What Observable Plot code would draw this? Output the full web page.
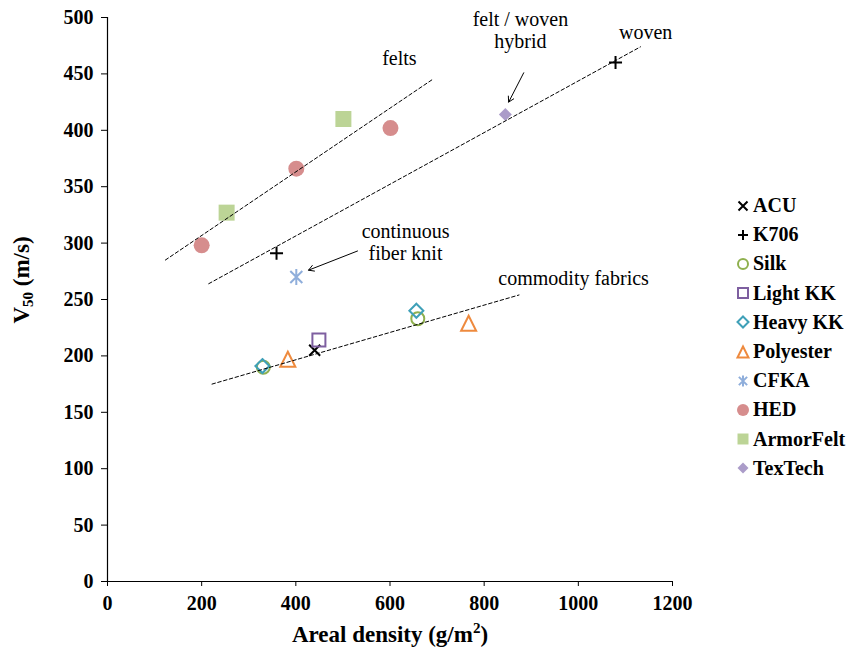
<!DOCTYPE html>
<html><head><meta charset="utf-8">
<script src="https://cdn.jsdelivr.net/npm/d3@7"></script>
<script src="https://cdn.jsdelivr.net/npm/@observablehq/plot@0.6"></script>
<style>
body{margin:0;background:#fff;}
#wrap{position:relative;width:846px;height:648px;font-family:"Liberation Serif","Times New Roman",serif;}
#legend{position:absolute;left:735px;top:191px;}
.item{display:flex;align-items:center;height:29.2px;font-weight:bold;font-size:20px;color:#000;}
.item svg{margin-right:2px;}
</style></head><body><div id="wrap"></div>
<script>
// ---- data ----
const seriesNames = ["ACU","K706","Silk","Light KK","Heavy KK","Polyester","CFKA","HED","ArmorFelt","TexTech"];
const acuX = [440], acuY = [205];
const k706X = [359, 1079], k706Y = [291, 460];
const silkX = [331, 659], silkY = [190, 233];
const lightKKX = [449], lightKKY = [214];
const heavyKKX = [329, 656], heavyKKY = [191, 240];
const polyesterX = [383, 767], polyesterY = [197, 229];
const cfkaX = [401], cfkaY = [270];
const hedX = [200, 401, 601], hedY = [298, 366, 402];
const armorFeltX = [253, 501], armorFeltY = [327, 410];
const texTechX = [845], texTechY = [414];

const trendNames = ["felts","woven","commodity"];
const feltsLineX = [123, 690], feltsLineY = [285, 445];
const wovenLineX = [215, 1132], wovenLineY = [264, 474];
const commodityLineX = [222, 874], commodityLineY = [175, 254];

const annText = ["felts", "felt / woven\nhybrid", "woven", "continuous\nfiber knit", "commodity fabrics"];
const annX = [620, 877, 1143, 633, 990];
const annY = [464, 489, 487, 301, 269];

const arrowX1 = [531, 884], arrowY1 = [293, 451];
const arrowX2 = [427, 852], arrowY2 = [276, 425];

const xTicks = [0, 200, 400, 600, 800, 1000, 1200];
const yTicks = [0, 50, 100, 150, 200, 250, 300, 350, 400, 450, 500];

// ---- symbols ----
const mk = f => ({draw(c, size){ const r = Math.sqrt(size / Math.PI); f(c, r); }});
const symCircle = mk((c,r)=>{c.moveTo(r,0); c.arc(0,0,r,0,2*Math.PI); c.closePath();});
const symSquare = mk((c,r)=>{c.rect(-r,-r,2*r,2*r);});
const symDiamond = mk((c,r)=>{c.moveTo(0,-r);c.lineTo(r,0);c.lineTo(0,r);c.lineTo(-r,0);c.closePath();});
const symTriangle = mk((c,r)=>{c.moveTo(0,-r);c.lineTo(r,r);c.lineTo(-r,r);c.closePath();});
const symPlus = mk((c,r)=>{c.moveTo(-r,0);c.lineTo(r,0);c.moveTo(0,-r);c.lineTo(0,r);});
const symTimes = mk((c,r)=>{c.moveTo(-r,-r);c.lineTo(r,r);c.moveTo(-r,r);c.lineTo(r,-r);});
const symStar = mk((c,r)=>{const d=r*0.75;c.moveTo(0,-r);c.lineTo(0,r);c.moveTo(-d,-d);c.lineTo(d,d);c.moveTo(-d,d);c.lineTo(d,-d);});

const series = [
  {name:"ACU", x:acuX, y:acuY, symbol:symTimes, stroke:"#000", fill:"none", r:5.5, sw:2, lr:4.5},
  {name:"K706", x:k706X, y:k706Y, symbol:symPlus, stroke:"#000", fill:"none", r:6.5, sw:2, lr:5},
  {name:"Silk", x:silkX, y:silkY, symbol:symCircle, stroke:"#8FB04E", fill:"none", r:6.5, sw:2, lr:5},
  {name:"Light KK", x:lightKKX, y:lightKKY, symbol:symSquare, stroke:"#7E5FA0", fill:"none", r:6.5, sw:2, lr:5},
  {name:"Heavy KK", x:heavyKKX, y:heavyKKY, symbol:symDiamond, stroke:"#3FA0B8", fill:"none", r:7, sw:2, lr:5.5},
  {name:"Polyester", x:polyesterX, y:polyesterY, symbol:symTriangle, stroke:"#EE8A3E", fill:"none", r:7.5, sw:2, lr:5.5},
  {name:"CFKA", x:cfkaX, y:cfkaY, symbol:symStar, stroke:"#8FAEDB", fill:"none", r:8, sw:2, lr:5.5},
  {name:"HED", x:hedX, y:hedY, symbol:symCircle, stroke:"none", fill:"#D68D8D", r:8, sw:0, lr:6},
  {name:"ArmorFelt", x:armorFeltX, y:armorFeltY, symbol:symSquare, stroke:"none", fill:"#BCD496", r:8, sw:0, lr:5.5},
  {name:"TexTech", x:texTechX, y:texTechY, symbol:symDiamond, stroke:"none", fill:"#AB9CC9", r:6.5, sw:0, lr:5.5}
];

const trends = [
  {x:feltsLineX, y:feltsLineY},
  {x:wovenLineX, y:wovenLineY},
  {x:commodityLineX, y:commodityLineY}
];

const dotMarks = series.map(s => Plot.dot(s.x.map((v,i)=>({x:v, y:s.y[i]})), {
  x:"x", y:"y", symbol:s.symbol, r:s.r, stroke:s.stroke, fill:s.fill, strokeWidth:s.sw
}));
const lineMarks = trends.map(t => Plot.line(t.x.map((v,i)=>({x:v, y:t.y[i]})), {
  x:"x", y:"y", stroke:"#000", strokeWidth:1, strokeDasharray:"3.5,2.5"
}));
const arrows = arrowX1.map((v,i)=>({x1:v, y1:arrowY1[i], x2:arrowX2[i], y2:arrowY2[i]}));
const anns = annText.map((t,i)=>({t, x:annX[i], y:annY[i]}));

const plot = Plot.plot({
  width:846, height:648,
  marginLeft:107, marginRight:174, marginTop:17, marginBottom:67,
  x:{domain:[0,1200]},
  y:{domain:[0,500]},
  style:{fontFamily:"'Liberation Serif','Times New Roman',serif", fontSize:"20px", color:"#000", background:"#fff"},
  marks:[
    Plot.axisX({ticks:xTicks, tickSize:5, tickPadding:9, tickFormat:d=>String(d), label:null, fontWeight:"bold"}),
    Plot.axisY({ticks:yTicks, tickSize:6, tickPadding:8, tickFormat:d=>String(d), label:null, fontWeight:"bold"}),
    Plot.ruleX([0], {stroke:"#000", strokeWidth:1.2}),
    Plot.ruleY([0], {stroke:"#000", strokeWidth:1.2}),
    ...dotMarks,
    ...lineMarks,
    Plot.arrow(arrows, {x1:"x1", y1:"y1", x2:"x2", y2:"y2", stroke:"#000", strokeWidth:1, headLength:9, bend:0}),
    Plot.text(anns, {x:"x", y:"y", text:"t", fontSize:20, fontWeight:"normal", fill:"#000", lineHeight:1.1})
  ]
});

const wrap = document.getElementById("wrap");
wrap.appendChild(plot);

const svg = d3.select(plot);
// y-axis title with subscript
const yt = svg.append("text")
  .attr("transform","translate(29,280) rotate(-90)")
  .attr("text-anchor","middle")
  .attr("font-weight","bold").attr("font-size",23).attr("fill","#000");
yt.append("tspan").text("V");
yt.append("tspan").attr("font-size",15).attr("dy",4).text("50");
yt.append("tspan").attr("dy",-4).text(" (m/s)");
// x-axis title with superscript
const xt = svg.append("text")
  .attr("x",390).attr("y",642)
  .attr("text-anchor","middle")
  .attr("font-weight","bold").attr("font-size",23).attr("fill","#000");
xt.append("tspan").text("Areal density (g/m");
xt.append("tspan").attr("font-size",15).attr("dy",-9).text("2");
xt.append("tspan").attr("dy",9).text(")");

// legend
const legend = document.createElement("div");
legend.id = "legend";
series.forEach(s => {
  const item = document.createElement("div");
  item.className = "item";
  const sv = d3.create("svg").attr("width",16).attr("height",16);
  sv.append("path")
    .attr("transform","translate(8,8)")
    .attr("d", d3.symbol(s.symbol, s.lr*s.lr*Math.PI)())
    .attr("fill", s.fill).attr("stroke", s.stroke).attr("stroke-width", s.sw ? 2 : 0);
  item.appendChild(sv.node());
  const span = document.createElement("span");
  span.textContent = s.name;
  item.appendChild(span);
  legend.appendChild(item);
});
wrap.appendChild(legend);
</script>
</body></html>
